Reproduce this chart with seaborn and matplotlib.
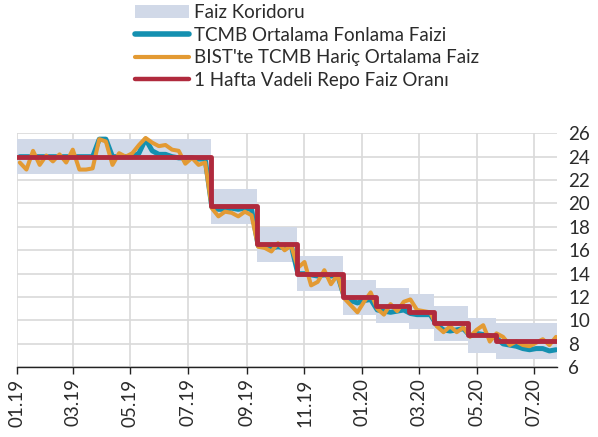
import pandas as pd
import matplotlib
matplotlib.use("Agg")
import matplotlib.pyplot as plt
import matplotlib.dates as mdates
from matplotlib.patches import Patch
from matplotlib.lines import Line2D
import seaborn as sns

# weekly observations (Fridays), Jan 2019 - Jul 2020
week_start = "2019-01-04"
n_weeks = 82

# BIST'te TCMB haric ortalama faiz
bist = [23.5, 22.9, 24.5, 23.3, 24.1, 23.6, 24.2, 23.5, 24.6, 22.9,
        22.9, 23.0, 25.5, 25.3, 23.3, 24.3, 24.0, 24.3, 25.0, 25.6,
        25.2, 24.9, 25.0, 24.6, 24.5, 23.4, 23.9, 23.3, 23.5, 19.6,
        18.9, 19.3, 19.2, 18.9, 19.3, 19.0, 16.3, 16.2, 15.9, 16.6,
        16.0, 16.4, 14.5, 15.0, 13.0, 13.3, 14.3, 13.1, 13.9, 11.9,
        11.3, 10.7, 11.6, 12.4, 11.0, 10.5, 11.4, 10.8, 11.6, 11.8,
        10.9, 10.8, 10.7, 9.5, 9.0, 9.5, 9.0, 9.4, 8.6, 9.2,
        9.6, 8.2, 8.9, 8.6, 7.9, 8.2, 7.9, 7.8, 8.1, 8.4,
        7.9, 8.6]

# TCMB ortalama fonlama faizi
tcmb = [24.0, 24.0, 24.0, 24.0, 24.0, 24.0, 24.0, 24.0, 24.0, 24.0,
        24.0, 24.0, 25.5, 25.5, 24.0, 24.0, 24.0, 24.0, 24.3, 25.5,
        24.5, 24.2, 24.2, 24.0, 23.9, 23.9, 23.9, 23.8, 23.8, 19.7,
        19.5, 19.5, 19.6, 19.5, 19.6, 19.5, 16.4, 16.3, 16.2, 16.3,
        16.2, 16.4, 14.0, 14.0, 13.9, 13.8, 13.9, 13.8, 13.9, 12.0,
        11.7, 11.5, 11.7, 11.8, 10.9, 10.8, 10.7, 10.8, 10.9, 10.6,
        10.5, 10.5, 10.5, 9.6, 9.2, 9.1, 9.2, 9.3, 8.7, 8.9,
        8.8, 8.7, 8.5, 8.0, 7.9, 7.8, 7.6, 7.5, 7.6, 7.6,
        7.4, 7.5]

# policy rate decisions and corridor
policy_dates = ["2019-01-01", "2019-07-25", "2019-09-12", "2019-10-24", "2019-12-12",
                "2020-01-16", "2020-02-19", "2020-03-17", "2020-04-22", "2020-05-21",
                "2020-07-25"]
policy_rate = [24.0, 19.75, 16.5, 14.0, 12.0, 11.25, 10.75, 9.75, 8.75, 8.25, 8.25]
corridor_low = [22.5, 18.25, 15.0, 12.5, 10.5, 9.75, 9.25, 8.25, 7.25, 6.75, 6.75]
corridor_high = [25.5, 21.25, 18.0, 15.5, 13.5, 12.75, 12.25, 11.25, 10.25, 9.75, 9.75]

labels = ["Faiz Koridoru", "TCMB Ortalama Fonlama Faizi",
          "BIST'te TCMB Hariç Ortalama Faiz", "1 Hafta Vadeli Repo Faiz Oranı"]

c_band = "#d1d9e8"
c_blue = "#1490b0"
c_orange = "#e39a33"
c_red = "#b02a3d"
txt = "#2b2b2b"

sns.set_theme(style="whitegrid")
plt.rcParams["font.family"] = ["Lato", "DejaVu Sans"]

weeks = pd.date_range(week_start, periods=n_weeks, freq="7D")
df = pd.DataFrame({"date": weeks, "bist": bist, "tcmb": tcmb})
pol = pd.DataFrame({"date": pd.to_datetime(policy_dates), "rate": policy_rate,
                    "lo": corridor_low, "hi": corridor_high})

fig = plt.figure(figsize=(5.98, 4.37), dpi=100)
ax = fig.add_axes([0.0284, 0.1595, 0.9030, 0.5355])

ax.fill_between(pol["date"], pol["lo"], pol["hi"], step="post", color=c_band, lw=0)
sns.lineplot(data=df, x="date", y="tcmb", ax=ax, color=c_blue, lw=3.6)
sns.lineplot(data=df, x="date", y="bist", ax=ax, color=c_orange, lw=2.9)
sns.lineplot(data=pol, x="date", y="rate", ax=ax, color=c_red, lw=3.5,
             drawstyle="steps-post")

ax.set_xlim(pd.Timestamp("2019-01-01"), pd.Timestamp("2020-07-25"))
ax.set_ylim(6, 26)
ax.set_yticks(range(6, 27, 2))
ax.yaxis.tick_right()
ax.xaxis.set_major_locator(mdates.MonthLocator(bymonth=[1, 3, 5, 7, 9, 11]))
ax.xaxis.set_major_formatter(mdates.DateFormatter("%m.%y"))
ax.set_xlabel("")
ax.set_ylabel("")
ax.tick_params(axis="x", rotation=90, labelsize=13.5, colors=txt, direction="out",
               length=5, width=1, bottom=True, color="#222222", pad=3)
ax.tick_params(axis="y", labelsize=13.5, colors=txt, length=0, pad=8)
ax.grid(color="#d9d9d9", lw=1.2)
for s in ["left", "right", "top"]:
    ax.spines[s].set_visible(False)
ax.spines["bottom"].set_color("#222222")
ax.spines["bottom"].set_linewidth(1)

handles = [Patch(facecolor=c_band, edgecolor="none"),
           Line2D([], [], color=c_blue, lw=4),
           Line2D([], [], color=c_orange, lw=3),
           Line2D([], [], color=c_red, lw=3.2)]
leg = fig.legend(handles, labels, loc="upper left", bbox_to_anchor=(0.222, 0.995),
                 frameon=False, fontsize=13.5, handlelength=2.9, handletextpad=0.25,
                 labelspacing=0.3, borderpad=0.1, borderaxespad=0)
for t in leg.get_texts():
    t.set_color(txt)

fig.savefig("out.png", dpi=100)
